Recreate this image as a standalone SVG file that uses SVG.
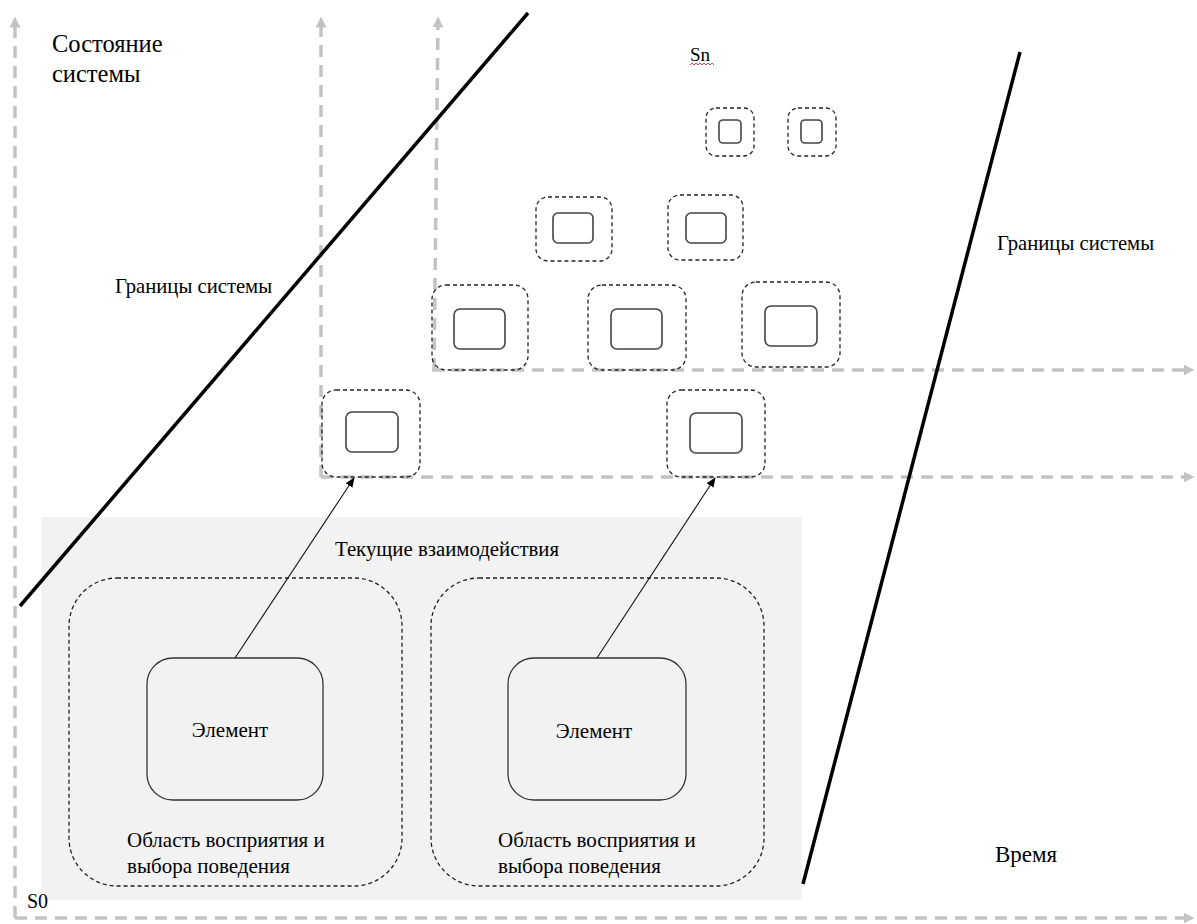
<svg xmlns="http://www.w3.org/2000/svg" width="1197" height="924" viewBox="0 0 1197 924">
  <style>
    .t { font-family: "Liberation Serif", "Times New Roman", serif; fill: #000; }
    .axis { fill: none; stroke: #c3c3c3; stroke-width: 3.5; stroke-dasharray: 12 8; }
    .bound { stroke: #000; stroke-width: 3.5; fill: none; }
    .zone { fill: none; stroke: #222; stroke-width: 1.3; stroke-dasharray: 4 3; }
    .cell { fill: #fff; stroke: #444; stroke-width: 1.6; }
    .elem { fill: #f2f2f2; stroke: #333; stroke-width: 1.3; }
    .link { stroke: #111; stroke-width: 1.1; fill: none; }
  </style>
  <defs>
    <marker id="ga" viewBox="0 0 10 10" refX="5" refY="5" markerWidth="11" markerHeight="11" markerUnits="userSpaceOnUse" orient="auto">
      <path d="M0,0 L10,5 L0,10 Z" fill="#c3c3c3"/>
    </marker>
    <marker id="ba" viewBox="0 0 10 10" refX="9" refY="5" markerWidth="10" markerHeight="10" markerUnits="userSpaceOnUse" orient="auto">
      <path d="M0,1 L10,5 L0,9 Z" fill="#000"/>
    </marker>
  </defs>

  <rect width="1197" height="924" fill="#fff"/>

  <!-- current interactions area -->
  <rect id="current" x="41" y="517" width="761" height="383" fill="#f2f2f2"/>

  <!-- state / time axes -->
  <g id="axes">
    <path class="axis" d="M15,918 L15,22" marker-end="url(#ga)"/>
    <path class="axis" d="M15,918 L1189,918" marker-end="url(#ga)"/>
    <path class="axis" d="M321,477 L321,22" marker-end="url(#ga)"/>
    <path class="axis" d="M321,477 L1189,477" marker-end="url(#ga)"/>
    <path class="axis" d="M434,370 L438,22" marker-end="url(#ga)"/>
    <path class="axis" d="M432,370 L1189,370" marker-end="url(#ga)"/>
  </g>

  <!-- system boundaries -->
  <g id="boundaries">
    <line class="bound" x1="20" y1="606" x2="528" y2="13"/>
    <line class="bound" x1="803" y1="884" x2="1020" y2="52"/>
  </g>

  <!-- future states -->
  <g id="state-r1a"><rect class="zone" x="706" y="108" width="48" height="48" rx="10"/><rect class="cell" x="719" y="120" width="22" height="23" rx="4"/></g>
  <g id="state-r1b"><rect class="zone" x="788" y="108" width="48" height="48" rx="10"/><rect class="cell" x="801" y="120" width="21" height="23" rx="4"/></g>
  <g id="state-r2a"><rect class="zone" x="536" y="197" width="76" height="64" rx="12"/><rect class="cell" x="553" y="213" width="40" height="30" rx="5"/></g>
  <g id="state-r2b"><rect class="zone" x="668" y="195" width="75" height="65" rx="12"/><rect class="cell" x="686" y="213" width="40" height="30" rx="5"/></g>
  <g id="state-r3a"><rect class="zone" x="432" y="285" width="96" height="85" rx="14"/><rect class="cell" x="454" y="309" width="51" height="40" rx="6"/></g>
  <g id="state-r3b"><rect class="zone" x="588" y="285" width="98" height="85" rx="14"/><rect class="cell" x="611" y="309" width="51" height="40" rx="6"/></g>
  <g id="state-r3c"><rect class="zone" x="742" y="282" width="98" height="85" rx="14"/><rect class="cell" x="765" y="306" width="52" height="40" rx="6"/></g>
  <g id="state-r4a"><rect class="zone" x="322" y="390" width="98" height="87" rx="14"/><rect class="cell" x="346" y="412" width="52" height="40" rx="6"/></g>
  <g id="state-r4b"><rect class="zone" x="667" y="390" width="98" height="87" rx="14"/><rect class="cell" x="690" y="413" width="52" height="40" rx="6"/></g>

  <!-- perception areas with elements -->
  <g id="area-left">
    <rect class="zone" x="69" y="578" width="333" height="308" rx="48"/>
    <rect class="elem" x="147" y="658" width="176" height="142" rx="26"/>
    <text class="t" x="230" y="737" font-size="21" text-anchor="middle">Элемент</text>
    <text class="t" x="127" y="847" font-size="21">Область восприятия и</text>
    <text class="t" x="127" y="873" font-size="21">выбора поведения</text>
  </g>
  <g id="area-right">
    <rect class="zone" x="431" y="578" width="333" height="308" rx="48"/>
    <rect class="elem" x="508" y="658" width="178" height="142" rx="26"/>
    <text class="t" x="594" y="738" font-size="21" text-anchor="middle">Элемент</text>
    <text class="t" x="498" y="847" font-size="21">Область восприятия и</text>
    <text class="t" x="498" y="873" font-size="21">выбора поведения</text>
  </g>

  <!-- transitions -->
  <g id="connectors">
    <line class="link" x1="235" y1="658" x2="354" y2="478" marker-end="url(#ba)"/>
    <line class="link" x1="597" y1="658" x2="715" y2="478" marker-end="url(#ba)"/>
  </g>

  <!-- labels -->
  <g id="labels">
    <text class="t" x="52" y="52" font-size="24.5">Состояние</text>
    <text class="t" x="52" y="82" font-size="24.5">системы</text>
    <text class="t" x="690" y="61" font-size="19">Sn</text>
    <path d="M690,65 l2,-2 l2,2 l2,-2 l2,2 l2,-2 l2,2 l2,-2 l2,2 l2,-2 l2,2 l2,-2 l2,2" fill="none" stroke="#e03030" stroke-width="0.9"/>
    <text class="t" x="115" y="293" font-size="20.7">Границы системы</text>
    <text class="t" x="997" y="250" font-size="20.7">Границы системы</text>
    <text class="t" x="447" y="556" font-size="20.8" text-anchor="middle">Текущие взаимодействия</text>
    <text class="t" x="995" y="862" font-size="23">Время</text>
    <text class="t" x="27" y="908" font-size="20">S0</text>
  </g>
</svg>
